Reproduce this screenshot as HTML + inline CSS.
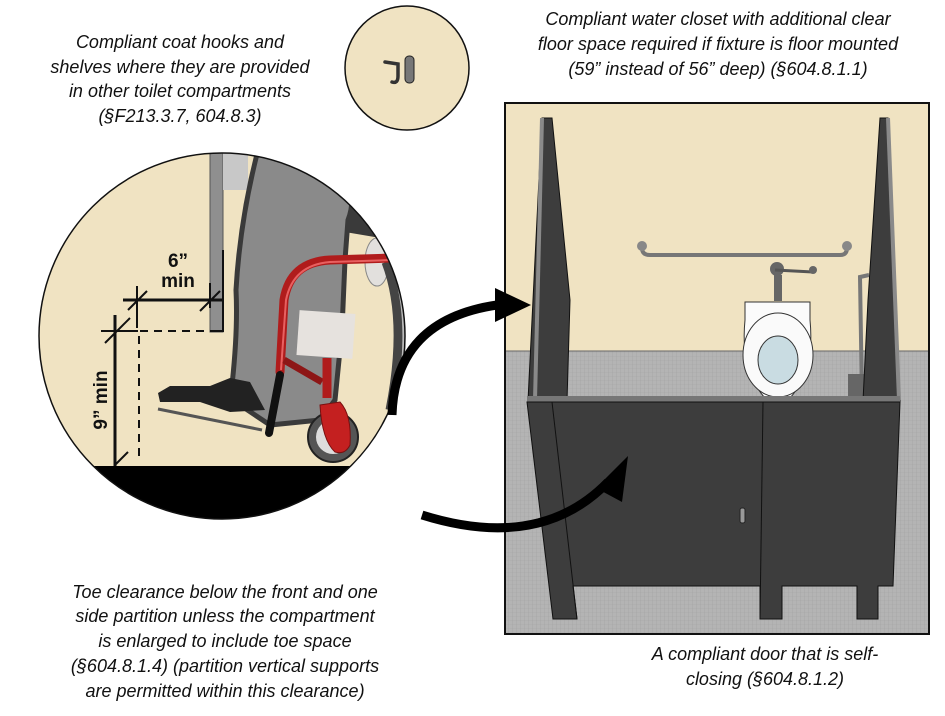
<!DOCTYPE html>
<html><head><meta charset="utf-8"><style>
html,body{margin:0;padding:0;background:#fff;}
svg{display:block;}
text{font-family:"Liberation Sans",sans-serif;}
.t{font-style:italic;font-size:18px;fill:#111;text-anchor:middle;}
</style></head><body>
<svg width="945" height="716" viewBox="0 0 945 716" xmlns="http://www.w3.org/2000/svg">
<defs>
<clipPath id="cc"><circle cx="222" cy="336" r="183"/></clipPath>
<pattern id="fl" width="4" height="4" patternUnits="userSpaceOnUse"><rect width="4" height="4" fill="#b4b4b4"/><path d="M0 0H4M0 0V4" stroke="#a2a2a2" stroke-width="0.6"/></pattern>
</defs>

<text class="t" x="180" y="48">Compliant coat hooks and</text>
<text class="t" x="180" y="73">shelves where they are provided</text>
<text class="t" x="180" y="97">in other toilet compartments</text>
<text class="t" x="180" y="122">(§F213.3.7, 604.8.3)</text>

<text class="t" x="718" y="25">Compliant water closet with additional clear</text>
<text class="t" x="718" y="50">floor space required if fixture is floor mounted</text>
<text class="t" x="718" y="75">(59” instead of 56” deep) (§604.8.1.1)</text>

<text class="t" x="225" y="598">Toe clearance below the front and one</text>
<text class="t" x="225" y="622">side partition unless the compartment</text>
<text class="t" x="225" y="647">is enlarged to include toe space</text>
<text class="t" x="225" y="672">(§604.8.1.4) (partition vertical supports</text>
<text class="t" x="225" y="697">are permitted within this clearance)</text>

<text class="t" x="765" y="660">A compliant door that is self-</text>
<text class="t" x="765" y="685">closing (§604.8.1.2)</text>

<circle cx="407" cy="68" r="62" fill="#f0e3c2" stroke="#111" stroke-width="1.5"/>
<rect x="405" y="56" width="9" height="27" rx="4" fill="#777" stroke="#222"/>
<path d="M385 62 L398 64 L398 76 Q398 84 392 82" fill="none" stroke="#333" stroke-width="3.5" stroke-linecap="round"/>

<g clip-path="url(#cc)">
<rect x="30" y="140" width="400" height="400" fill="#f0e3c2"/>
<rect x="210" y="140" width="13" height="192" fill="#8f8f8f" stroke="#555" stroke-width="1"/>
<rect x="223" y="150" width="25" height="40" fill="#c8c8c8"/>
<path d="M210 331 H223 V250" fill="none" stroke="#111" stroke-width="2"/>
<!-- seat -->
<path d="M330 205 L385 215 L392 240 L345 232Z" fill="#3a3a3a"/>
<!-- pants -->
<path d="M258 150 L335 150 Q360 190 348 220 L345 260 L342 330 L335 400 L320 420 L270 425 L240 405 L232 385 Q238 330 236 290 Q240 220 258 150Z" fill="#8a8a8a" stroke="#3a3a3a" stroke-width="5"/>
<ellipse cx="377" cy="262" rx="12" ry="24" fill="#e2e0dd" stroke="#888"/>
<!-- shoe -->
<path d="M158 393 L170 386 L210 386 L230 378 L250 382 L265 410 L230 412 L200 402 L160 402Z" fill="#222"/>
<line x1="158" y1="409" x2="262" y2="430" stroke="#555" stroke-width="3"/>
<!-- wheel -->
<path d="M386 262 Q408 320 390 410" fill="none" stroke="#444" stroke-width="9"/>
<path d="M392 262 Q413 320 397 405" fill="none" stroke="#bbb" stroke-width="3"/>
<!-- wheelchair frame -->
<path d="M280 372 L284 300 Q290 262 330 260 L392 258" fill="none" stroke="#b01c1c" stroke-width="9" stroke-linecap="round"/>
<path d="M281 370 L286 300 Q293 265 330 262 L392 260" fill="none" stroke="#e86060" stroke-width="2"/>
<path d="M284 360 L322 382" fill="none" stroke="#8d1616" stroke-width="7"/>
<line x1="327" y1="358" x2="327" y2="398" stroke="#b01c1c" stroke-width="9"/>
<rect x="298" y="312" width="56" height="45" fill="#e6e2de" transform="rotate(4 326 334)"/>
<line x1="280" y1="375" x2="269" y2="433" stroke="#111" stroke-width="8" stroke-linecap="round"/>
<circle cx="333" cy="437" r="25" fill="#555" stroke="#222" stroke-width="2"/>
<circle cx="333" cy="437" r="17" fill="#ddd"/>
<path d="M320 405 L340 402 Q352 415 350 445 Q345 455 335 452 Q322 440 320 405Z" fill="#c42020" stroke="#7a1010"/>
<!-- dimensions -->
<line x1="123" y1="300" x2="222" y2="300" stroke="#111" stroke-width="3"/>
<line x1="137" y1="286" x2="137" y2="328" stroke="#111" stroke-width="2"/>
<line x1="210" y1="283" x2="210" y2="308" stroke="#111" stroke-width="2"/>
<line x1="128" y1="310" x2="147" y2="291" stroke="#111" stroke-width="2"/>
<line x1="200" y1="311" x2="220" y2="291" stroke="#111" stroke-width="2"/>
<line x1="115" y1="315" x2="115" y2="466" stroke="#111" stroke-width="3"/>
<line x1="101" y1="331" x2="138" y2="331" stroke="#111" stroke-width="2"/>
<line x1="105" y1="343" x2="130" y2="318" stroke="#111" stroke-width="2"/>
<line x1="115" y1="465" x2="128" y2="452" stroke="#111" stroke-width="2"/>
<line x1="140" y1="331" x2="210" y2="331" stroke="#111" stroke-width="2" stroke-dasharray="8,6"/>
<line x1="139" y1="336" x2="139" y2="456" stroke="#111" stroke-width="2" stroke-dasharray="8,6"/>
<text x="178" y="267" font-size="19" font-weight="bold" text-anchor="middle" fill="#111">6”</text>
<text x="178" y="287" font-size="19" font-weight="bold" text-anchor="middle" fill="#111">min</text>
<text transform="translate(107 400) rotate(-90)" font-size="19" font-weight="bold" text-anchor="middle" fill="#111">9” min</text>
<rect x="30" y="466" width="400" height="80" fill="#000"/>
</g>
<circle cx="222" cy="336" r="183" fill="none" stroke="#111" stroke-width="1.5"/>

<rect x="505" y="103" width="424" height="531" fill="#f0e3c2" stroke="#111" stroke-width="2"/>
<rect x="506" y="351" width="422" height="282" fill="url(#fl)"/>
<line x1="506" y1="351" x2="928" y2="351" stroke="#666" stroke-width="1"/>
<path d="M642 248 Q642 255 650 255 L840 255 Q847 255 847 248" fill="none" stroke="#777" stroke-width="4"/>
<circle cx="642" cy="246" r="5" fill="#888"/><circle cx="847" cy="246" r="5" fill="#888"/>
<path d="M862 400 L860 277 L869 275" fill="none" stroke="#777" stroke-width="4"/>
<rect x="848" y="374" width="26" height="26" fill="#666"/>
<circle cx="777" cy="269" r="7" fill="#666"/>
<path d="M775 270 L813 272" stroke="#555" stroke-width="3"/>
<circle cx="813" cy="270" r="4" fill="#666"/>
<rect x="774" y="275" width="8" height="26" fill="#666"/>
<path d="M745 302 H810 V320 Q815 370 790 398 H765 Q740 370 745 320Z" fill="#fbfbfb" stroke="#333"/>
<ellipse cx="778" cy="355" rx="35" ry="42" fill="#fafafa" stroke="#333"/>
<ellipse cx="778" cy="360" rx="20" ry="24" fill="#c9dce2" stroke="#333"/>
<path d="M542 118 L552 118 L570 300 L567 401 L528 401 Z" fill="#3d3d3d" stroke="#111"/>
<path d="M542 118 L535 400" stroke="#8a8a8a" stroke-width="4"/>
<path d="M880 118 L888 118 L900 401 L863 401 L868 300 Z" fill="#3d3d3d" stroke="#111"/>
<path d="M888 118 L899 400" stroke="#8a8a8a" stroke-width="4"/>
<path d="M527 396 L900 396 L900 402 L527 402Z" fill="#777"/>
<path d="M527 402 L900 402 L893 586 L878 586 L878 619 L857 619 L857 586 L782 586 L782 619 L760 619 L760 586 L573 586 L577 619 L553 619 Z" fill="#3d3d3d" stroke="#111"/>
<line x1="552" y1="402" x2="577" y2="619" stroke="#111"/>
<line x1="763" y1="402" x2="760" y2="619" stroke="#111"/>
<rect x="740" y="508" width="5" height="15" rx="2" fill="#999" stroke="#222"/>

<path d="M392 415 Q395 320 497 305" fill="none" stroke="#000" stroke-width="9"/>
<polygon points="495,288 531,305 495,322" fill="#000"/>
<path d="M422 515 Q540 552 608 482" fill="none" stroke="#000" stroke-width="9"/>
<polygon points="628,456 596,488 622,502" fill="#000"/>
</svg>
</body></html>
